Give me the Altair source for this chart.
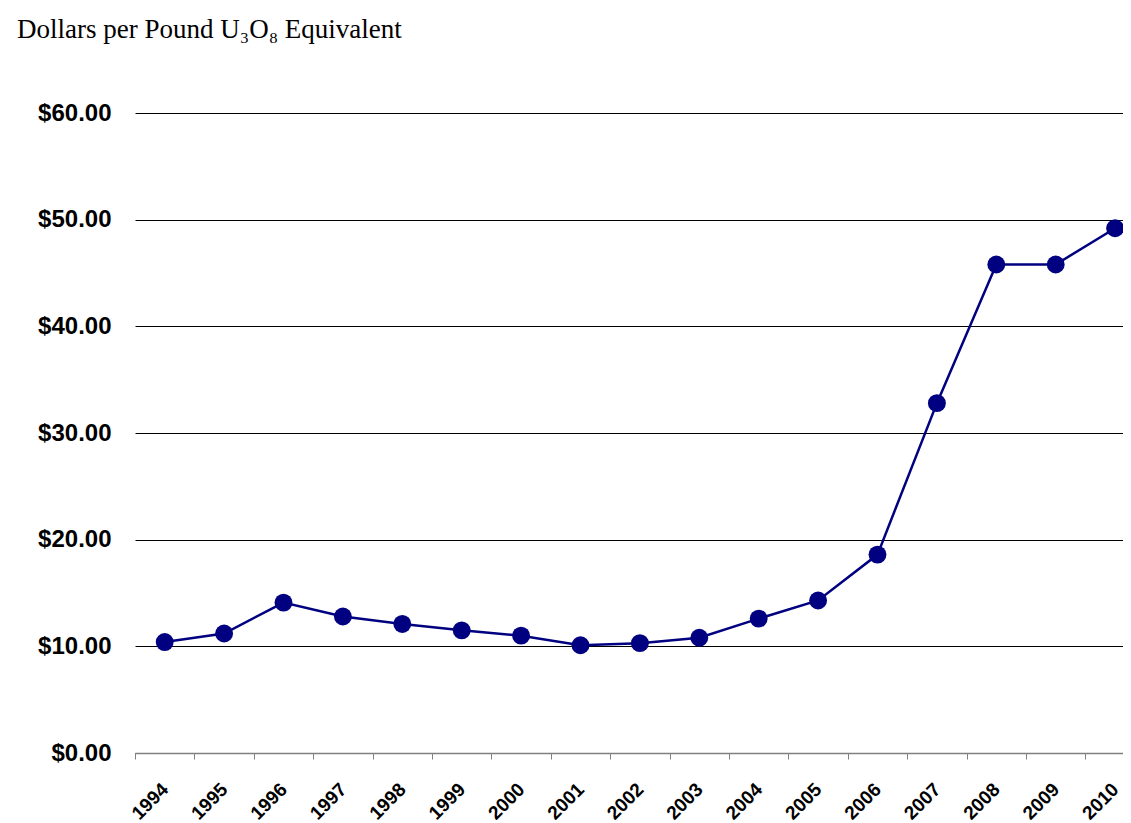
import altair as alt
import pandas as pd

years = [str(y) for y in range(1994, 2011)]
prices = [10.4, 11.2, 14.1, 12.8, 12.1, 11.5, 11.0, 10.1, 10.3, 10.8,
          12.6, 14.3, 18.6, 32.8, 45.8, 45.8, 49.2]

df = pd.DataFrame({"year": years, "price": prices})

step = 59.4
x = alt.X("year:O", sort=years, title=None,
          scale=alt.Scale(range=[0, step * len(years)], paddingInner=0, paddingOuter=0),
          axis=alt.Axis(labelAngle=-45, labelAlign="right", labelBaseline="middle",
                        labelFont="Liberation Sans", labelFontWeight="bold",
                        labelFontSize=19, labelColor="black", labelPadding=27,
                        tickBand="extent", tickSize=6, tickColor="#808080",
                        domainColor="#808080", domainWidth=1.5, grid=False,
                        labelOverlap=False))
y = alt.Y("price:Q", title=None,
          scale=alt.Scale(domain=[0, 60], nice=False, zero=True),
          axis=alt.Axis(values=[0, 10, 20, 30, 40, 50, 60], format="$.2f",
                        labelFont="Liberation Sans", labelFontWeight="bold",
                        labelFontSize=24, labelColor="black", labelPadding=24,
                        ticks=False, domain=False, grid=True,
                        gridColor="black", gridWidth=1))

base = alt.Chart(df)
line = base.mark_line(color="#000080", strokeWidth=2.5).encode(x=x, y=y)
pts = base.mark_circle(color="#000080", size=320, opacity=1).encode(x=x, y=y)

chart = (line + pts).properties(
    width=988, height=640,
    autosize=alt.AutoSizeParams(type="none"),
    padding={"left": 127, "top": 105, "right": 0, "bottom": 72},
    title=alt.TitleParams(text="Dollars per Pound U₃O₈ Equivalent",
                          font="Liberation Serif", fontSize=27, fontWeight="normal",
                          color="black", anchor="start", frame="group",
                          dx=-118, offset=57),
).configure_view(stroke=None)

chart.save("out.html", embed_options={"renderer": "svg", "actions": False})
